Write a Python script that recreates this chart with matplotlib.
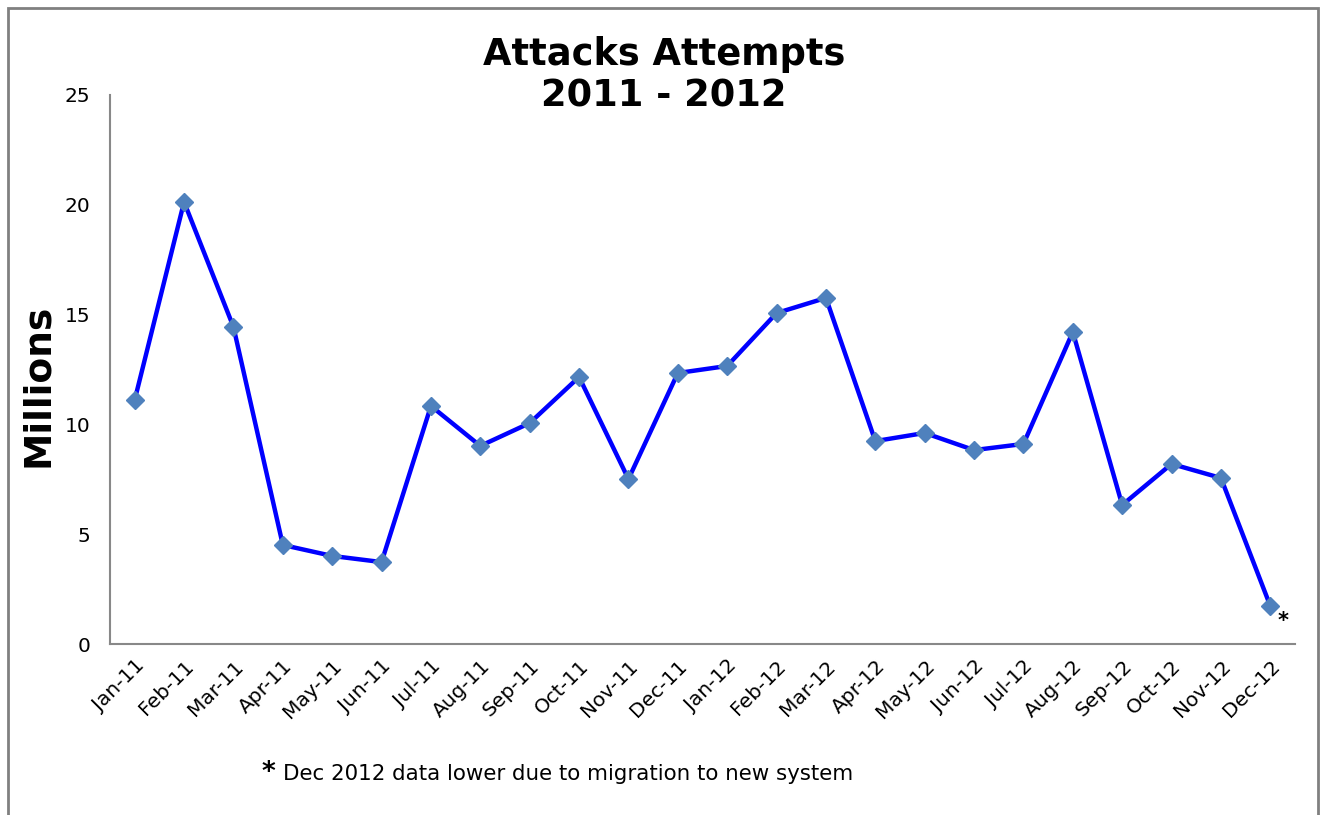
import matplotlib
matplotlib.use("Agg")
import matplotlib.pyplot as plt
from matplotlib.patches import Rectangle

months = ["Jan-11", "Feb-11", "Mar-11", "Apr-11", "May-11", "Jun-11", "Jul-11", "Aug-11",
          "Sep-11", "Oct-11", "Nov-11", "Dec-11", "Jan-12", "Feb-12", "Mar-12", "Apr-12",
          "May-12", "Jun-12", "Jul-12", "Aug-12", "Sep-12", "Oct-12", "Nov-12", "Dec-12"]
attempts = [11.11, 20.13, 14.44, 4.51, 4.01, 3.73, 10.84, 9.02, 10.06, 12.16, 7.51, 12.34,
            12.66, 15.07, 15.76, 9.24, 9.61, 8.83, 9.11, 14.21, 6.33, 8.20, 7.56, 1.73]
yticks = [0, 5, 10, 15, 20, 25]

plt.rcParams['font.family'] = ['DejaVu Sans']
W, H = 1320, 815
fig = plt.figure(figsize=(W / 100, H / 100), dpi=100)

# outer border
fig.patches.append(Rectangle((8 / W, -0.05), (1318 - 8) / W, 1 - 8 / H + 0.05,
                             transform=fig.transFigure, fill=False,
                             edgecolor='#808080', linewidth=2))

ax = fig.add_axes([110 / W, 1 - 644 / H, (1295 - 110) / W, (644 - 95) / H])
x = list(range(len(months)))
ax.plot(x, attempts, color='#0000FF', linewidth=3.2, marker='D', markersize=9,
        markerfacecolor='#4F81BD', markeredgecolor='#4F81BD', zorder=3)

ax.set_xlim(-0.5, len(months) - 0.5)
ax.set_ylim(0, 25)
ax.set_yticks(yticks)
ax.set_yticklabels([str(v) for v in yticks], fontsize=14.5)
ax.set_xticks(x)
ax.set_xticklabels(months, rotation=45, ha='right', rotation_mode='anchor', fontsize=14.5)
ax.tick_params(axis='y', length=0, pad=14)
ax.tick_params(axis='x', length=0, pad=9)
for s in ['top', 'right']:
    ax.spines[s].set_visible(False)
for s in ['left', 'bottom']:
    ax.spines[s].set_color('#888888')
    ax.spines[s].set_linewidth(1.5)

fig.text(38 / W, 1 - 385 / H, "Millions", fontsize=27, fontweight='heavy',
         rotation=90, ha='center', va='center')

ax.annotate("*", xy=(x[-1], attempts[-1]), xytext=(9, -11), textcoords='offset points',
            fontsize=15, fontweight='bold', ha='center', va='center')

fig.text(664 / W, 1 - 75 / H, "Attacks Attempts\n2011 - 2012", ha='center', va='center',
         fontsize=26.5, fontweight='bold', linespacing=1.15)

fig.text(262 / W, 1 - 773 / H, "*", fontsize=19, fontweight='bold', ha='left', va='center')
fig.text(283 / W, 1 - 774 / H, "Dec 2012 data lower due to migration to new system",
         fontsize=15.4, ha='left', va='center')

fig.savefig("out.png", dpi=100)
